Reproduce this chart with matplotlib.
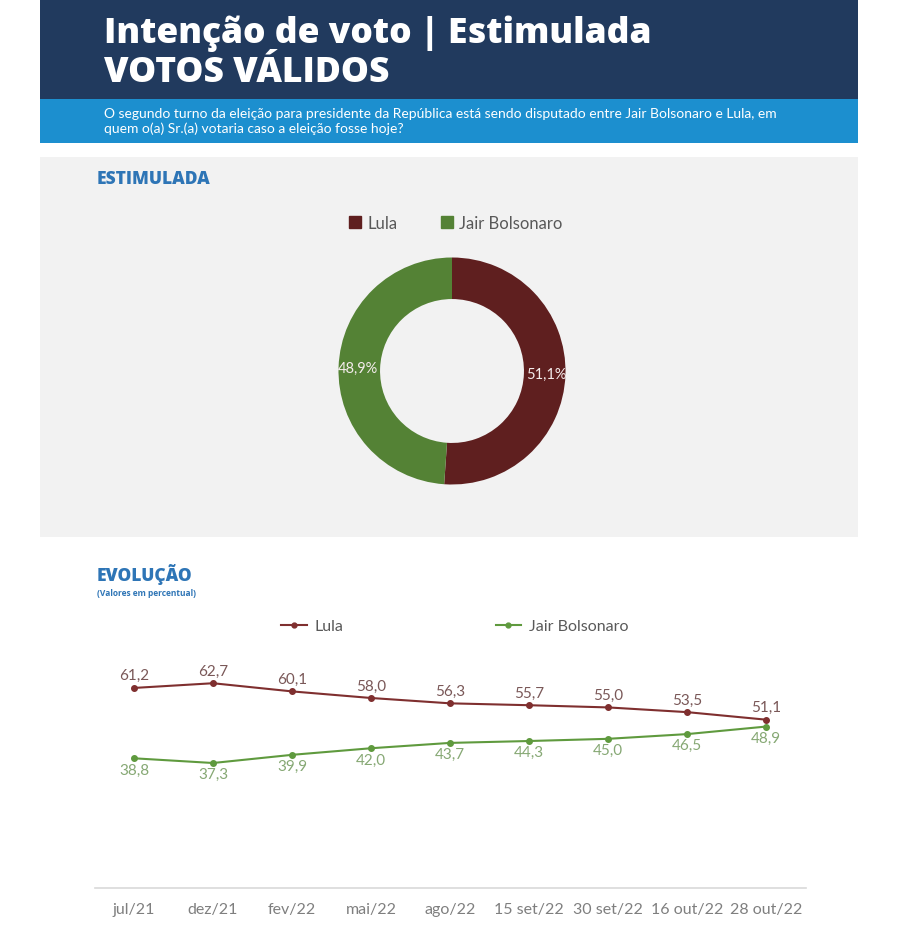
import numpy as np
import matplotlib.pyplot as plt
from matplotlib.patches import Rectangle, Patch
from matplotlib.lines import Line2D

# dados
candidatos = ['Lula', 'Jair Bolsonaro']
votos_validos = [51.1, 48.9]
periodos = ['jul/21', 'dez/21', 'fev/22', 'mai/22', 'ago/22',
            '15 set/22', '30 set/22', '16 out/22', '28 out/22']
lula = [61.2, 62.7, 60.1, 58.0, 56.3, 55.7, 55.0, 53.5, 51.1]
bolsonaro = [38.8, 37.3, 39.9, 42.0, 43.7, 44.3, 45.0, 46.5, 48.9]

W, H = 900, 937
fig = plt.figure(figsize=(W / 100, H / 100), dpi=100)
fig.patch.set_facecolor('white')


def box(x0, y0, x1, y1):
    # pixel box (top-left origin) -> figure fraction rect
    return [x0 / W, 1 - y1 / H, (x1 - x0) / W, (y1 - y0) / H]


bg = fig.add_axes([0, 0, 1, 1])
bg.set_xlim(0, W)
bg.set_ylim(H, 0)
bg.axis('off')

bg.add_patch(Rectangle((40, 0), 818, 100, color='#213a5e', lw=0))
bg.add_patch(Rectangle((40, 100), 818, 44, color='#1c8fcf', lw=0))
bg.add_patch(Rectangle((40, 158), 818, 380, color='#f2f2f2', lw=0))

head = 'Open Sans'
body = 'Lato'
bg.text(104, 34, 'Intenção de voto | Estimulada', color='white', fontsize=25.5,
        fontweight='heavy', family=head, va='center')
bg.text(104, 73, 'VOTOS VÁLIDOS', color='white', fontsize=25.5,
        fontweight='heavy', family=head, va='center')
bg.text(104, 114, 'O segundo turno da eleição para presidente da República está sendo disputado entre Jair Bolsonaro e Lula, em',
        color='white', fontsize=10, family=body, va='center')
bg.text(104, 129, 'quem o(a) Sr.(a) votaria caso a eleição fosse hoje?',
        color='white', fontsize=10, family=body, va='center')

bg.text(97, 180, 'ESTIMULADA', color='#2e75b6', fontsize=12.5,
        fontweight='heavy', family=head, va='center')
bg.text(97, 575, 'EVOLUÇÃO', color='#2e75b6', fontsize=12.5,
        fontweight='heavy', family=head, va='center')
bg.text(97, 594, '(Valores em percentual)', color='#2e75b6', fontsize=6,
        fontweight='bold', family=head, va='center')

# rosca
cores_pie = ['#5f1f1f', '#548235']
axp = fig.add_axes(box(338.5, 258.5, 565.5, 485.5))
wedges, _, autotexts = axp.pie(
    votos_validos, colors=cores_pie, startangle=90, counterclock=False,
    wedgeprops=dict(width=0.366, linewidth=0),
    autopct=lambda p: f'{p:.1f}%'.replace('.', ','), pctdistance=0.83)
for t in autotexts:
    t.set_color('#f4ecec')
    t.set_fontsize(10.5)
    t.set_family(body)
axp.set_xlim(-1, 1)
axp.set_ylim(-1, 1)
axp.set_aspect('equal')

fig.legend([Patch(color=c) for c in cores_pie], candidatos, ncol=2,
           loc='center', bbox_to_anchor=(456 / W, 1 - 224 / H), frameon=False,
           handlelength=0.7, handleheight=0.7, handletextpad=0.4,
           columnspacing=2.6, prop={'family': body, 'size': 12},
           labelcolor='#595959')

# evolucao
cor_lula, cor_bolso = '#7f2f2f', '#5f9a3e'
axl = fig.add_axes(box(94.5, 650, 805.5, 889))
x = np.arange(len(periodos))
axl.plot(x, lula, color=cor_lula, lw=1.5, marker='o', ms=4)
axl.plot(x, bolsonaro, color=cor_bolso, lw=1.5, marker='o', ms=4)
axl.set_xlim(-0.5, len(periodos) - 0.5)
axl.set_ylim(-2.5, 73.6)
for i in range(len(periodos)):
    axl.annotate(f'{lula[i]:.1f}'.replace('.', ','), (x[i], lula[i]),
                 xytext=(0, 4), textcoords='offset points', ha='center',
                 va='bottom', color='#7a5858', fontsize=11, family=body)
    axl.annotate(f'{bolsonaro[i]:.1f}'.replace('.', ','), (x[i], bolsonaro[i]),
                 xytext=(0, -3), textcoords='offset points',
                 ha='center', va='top', color='#86a874',
                 fontsize=11, family=body)
axl.set_xticks(x)
axl.set_xticklabels(periodos, color='#7f7f7f', fontsize=11.5, family=body)
axl.tick_params(axis='x', length=0, pad=10)
axl.set_yticks([])
for s in ['top', 'left', 'right']:
    axl.spines[s].set_visible(False)
axl.spines['bottom'].set_color('#d9d9d9')
axl.spines['bottom'].set_linewidth(1.2)
axl.patch.set_alpha(0)

fig.legend([Line2D([], [], color=cor_lula, marker='o', ms=3.5, lw=1.5),
            Line2D([], [], color=cor_bolso, marker='o', ms=3.5, lw=1.5)],
           candidatos, ncol=2, loc='center', bbox_to_anchor=(455 / W, 1 - 627 / H),
           frameon=False, handlelength=1.6, handletextpad=0.5, columnspacing=9.5,
           prop={'family': body, 'size': 11.5}, labelcolor='#595959')

plt.savefig('out.png', dpi=100)
plt.close()
